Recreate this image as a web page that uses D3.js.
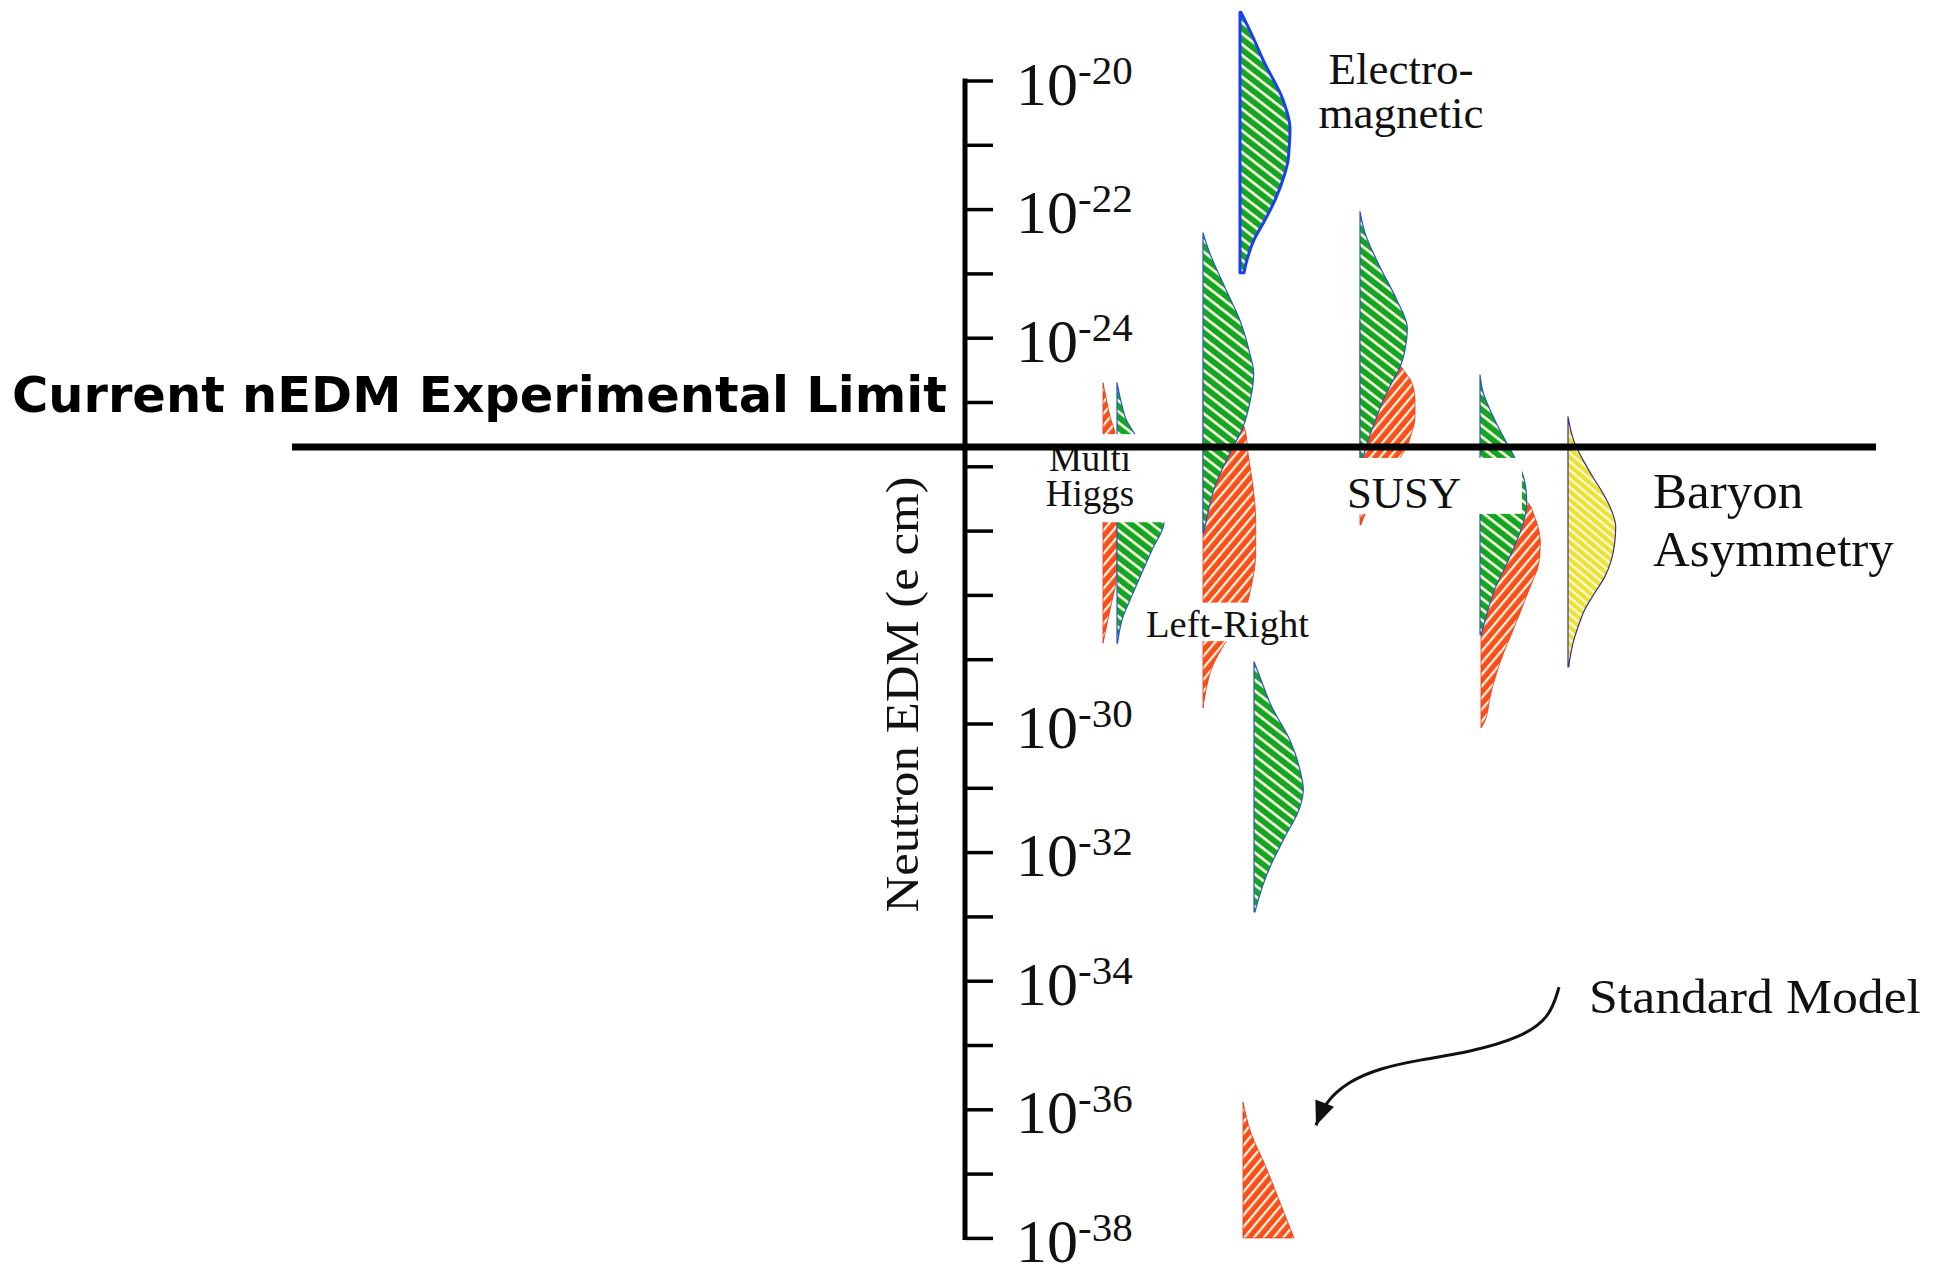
<!DOCTYPE html>
<html>
<head>
<meta charset="utf-8">
<script src="https://cdn.jsdelivr.net/npm/d3@7/dist/d3.min.js"></script>
<style>
  body { margin: 0; background: #fff; }
</style>
</head>
<body>
<div id="plot"></div>
<script>
// log10 of the neutron EDM (e cm)
var tickExps  = d3.range(-20, -39, -1);
var labelExps = [-20, -22, -24, -30, -32, -34, -36, -38];
var limitExp  = -25.7;

// predicted ranges, each point = [log10 EDM, band width]
var emGreen      = [[-18.94,0.1],[-19.26,1.1],[-19.71,2.4],[-20.30,4.3],[-20.74,5.0],[-21.08,4.9],[-21.25,4.8],[-21.44,4.5],[-21.86,3.5],[-22.17,2.5],[-22.48,1.4],[-22.79,0.7],[-22.99,0.4]];
var lrGreen      = [[-22.37,0],[-22.68,0.67],[-23.21,2.17],[-23.72,3.67],[-24.24,4.67],[-24.55,5.07],[-25.02,4.67],[-25.39,4.0],[-25.80,2.67],[-26.32,1.17],[-26.84,0.33],[-27.04,0.07]];
var lrOrange     = [[-24.66,0],[-25.05,2.5],[-25.43,4.2],[-25.80,4.5],[-26.32,5.0],[-26.84,5.27],[-27.35,5.27],[-27.88,4.8],[-28.23,4.2],[-28.55,3.0],[-28.75,2.2],[-29.09,1.0],[-29.48,0.3],[-29.76,0]];
var lrGreenLow   = [[-29.04,0],[-29.21,0.43],[-29.74,1.77],[-30.26,3.6],[-30.77,4.67],[-31.03,4.93],[-31.30,4.6],[-31.81,2.93],[-32.33,1.33],[-32.74,0.43],[-32.93,0.1]];
var mhOrange     = [[-24.70,0],[-24.97,0.35],[-25.23,0.7],[-25.50,1.2],[-26.21,1.35],[-26.87,1.4],[-27.46,1.4],[-27.72,1.35],[-28.23,0.7],[-28.75,0]];
var mhGreen      = [[-24.70,0],[-25.01,0.43],[-25.28,0.93],[-25.50,1.77],[-26.18,3.3],[-26.87,4.7],[-27.30,3.5],[-27.72,2.3],[-28.08,1.3],[-28.34,0.6],[-28.75,0.05]];
var susyGreen    = [[-22.04,0],[-22.37,0.5],[-22.90,2.0],[-23.41,3.67],[-23.85,4.73],[-24.19,4.5],[-24.46,4.0],[-24.70,3.17],[-24.97,2.33],[-25.23,1.67],[-25.48,1.07],[-25.75,0.5],[-25.98,0.1]];
var susyOrange   = [[-23.72,0],[-24.11,2.5],[-24.47,4.2],[-24.70,5.17],[-24.97,5.5],[-25.23,5.5],[-25.48,5.17],[-25.75,4.5],[-25.87,4.0],[-26.14,3.0],[-26.45,1.6],[-26.71,0.6],[-26.91,0.1]];
var col4Green    = [[-24.58,0],[-24.86,0.33],[-25.12,1.0],[-25.39,1.83],[-25.64,2.67],[-25.87,3.5],[-26.09,4.2],[-26.37,4.6],[-26.60,4.67],[-26.84,4.4],[-27.07,3.9],[-27.46,2.83],[-27.97,1.33],[-28.50,0.33],[-28.62,0.1]];
var col4Orange   = [[-26.06,0],[-26.37,2.8],[-26.57,4.7],[-26.76,5.3],[-26.94,5.7],[-27.19,5.93],[-27.46,5.83],[-27.97,4.67],[-28.50,3.33],[-29.01,2.0],[-29.52,1.0],[-29.98,0.33],[-30.07,0]];
var baryonYellow = [[-25.23,0],[-25.64,0.67],[-25.90,1.5],[-26.17,2.5],[-26.42,3.5],[-26.68,4.33],[-26.94,4.77],[-27.19,4.67],[-27.46,4.33],[-27.72,3.67],[-27.97,2.67],[-28.23,1.67],[-28.50,1.0],[-28.75,0.5],[-29.01,0.17],[-29.12,0.07]];
var smOrange     = [[-35.89,0],[-36.37,0.8],[-36.90,2.3],[-37.41,3.6],[-38.0,5.1]];

// which column each band sits in, drawn in this order (green over orange)
var bands = [
  {data: mhOrange,     col: 13.8, kind: "orange"},
  {data: lrOrange,     col: 23.8, kind: "orange"},
  {data: susyOrange,   col: 39.5, kind: "orange"},
  {data: col4Orange,   col: 51.6, kind: "orange"},
  {data: smOrange,     col: 27.8, kind: "orange"},
  {data: mhGreen,      col: 15.2, kind: "green"},
  {data: lrGreen,      col: 23.8, kind: "green"},
  {data: lrGreenLow,   col: 28.9, kind: "green"},
  {data: susyGreen,    col: 39.5, kind: "green"},
  {data: col4Green,    col: 51.5, kind: "green"},
  {data: emGreen,      col: 27.5, kind: "em"},
  {data: baryonYellow, col: 60.3, kind: "yellow"}
];

var W = 1942, H = 1275;
var svg = d3.select("#plot").append("svg")
    .attr("width", W)
    .attr("height", H);

var x = d3.scaleLinear().domain([0, 100]).range([965, 1965]);
var y = d3.scaleLinear().domain([-20, -38]).range([80.5, 1237.9]);

var serif = "'Liberation Serif', 'Times New Roman', serif";

// hatch patterns
var defs = svg.append("defs");
function hatch(id, color, period, white, angle) {
    var p = defs.append("pattern")
        .attr("id", id)
        .attr("patternUnits", "userSpaceOnUse")
        .attr("width", period)
        .attr("height", period)
        .attr("patternTransform", "rotate(" + angle + ")");
    p.append("rect").attr("width", period).attr("height", period).attr("fill", color);
    p.append("rect").attr("width", period).attr("height", white).attr("fill", "#fffbe2");
}
hatch("hGreen", "#14a523", 8.5, 2.6, 38);
hatch("hOrange", "#fa4f1c", 7.5, 2.2, -50);
hatch("hYellow", "#ece232", 6.5, 2.2, 40);

var styles = {
    orange: {fill: "url(#hOrange)", stroke: "#d8381a", width: 0.8},
    green:  {fill: "url(#hGreen)",  stroke: "#2a55c8", width: 1.2},
    em:     {fill: "url(#hGreen)",  stroke: "#1c3cf5", width: 3},
    yellow: {fill: "url(#hYellow)", stroke: "#3c2c8c", width: 1.2}
};

bands.forEach(function(b) {
    var area = d3.area()
        .curve(d3.curveMonotoneY)
        .y(function(d) { return y(d[0]); })
        .x0(x(b.col))
        .x1(function(d) { return x(b.col + d[1]); });
    var s = styles[b.kind];
    svg.append("path")
        .datum(b.data)
        .attr("d", area)
        .attr("fill", s.fill)
        .attr("stroke", s.stroke)
        .attr("stroke-width", s.width)
        .attr("stroke-linejoin", "round");
});

// white boxes behind the model names: [col from, col to, exp top, exp bottom]
var labelBoxes = [
    [7.0, 20.2, -25.50, -26.87],
    [37.5, 55.7, -25.87, -26.74],
    [17.7, 35.0, -28.12, -28.72]
];
svg.selectAll(".lbox")
    .data(labelBoxes)
    .enter().append("rect")
    .attr("x", function(d) { return x(d[0]); })
    .attr("y", function(d) { return y(d[2]); })
    .attr("width", function(d) { return x(d[1]) - x(d[0]); })
    .attr("height", function(d) { return y(d[3]) - y(d[2]); })
    .attr("fill", "#fff");

// model names; second line sits at e2
var labels = [
    {lines: ["Electro-", "magnetic"], u: 43.6,  e: -20.06, e2: -20.74, size: 45, anchor: "middle"},
    {lines: ["Multi", "Higgs"],       u: 12.5,  e: -26.07, e2: -26.62, size: 37, anchor: "middle"},
    {lines: ["Left-Right"],           u: 26.25, e: -28.66, size: 38, anchor: "middle", len: 163},
    {lines: ["SUSY"],                 u: 43.9,  e: -26.65, size: 44, anchor: "middle", len: 114},
    {lines: ["Baryon", "Asymmetry"],  u: 68.8,  e: -26.65, e2: -27.55, size: 51, anchor: "start"},
    {lines: ["Standard Model"],       u: 62.4,  e: -34.50, size: 48, anchor: "start", len: 332}
];
labels.forEach(function(d) {
    var t = svg.append("text")
        .attr("text-anchor", d.anchor)
        .style("font-family", serif)
        .style("font-size", d.size + "px")
        .attr("fill", "#111");
    if (d.lines.length == 1) {
        t.attr("x", x(d.u)).attr("y", y(d.e))
         .attr("textLength", d.len)
         .attr("lengthAdjust", "spacingAndGlyphs")
         .text(d.lines[0]);
    } else {
        t.append("tspan").attr("x", x(d.u)).attr("y", y(d.e)).text(d.lines[0]);
        t.append("tspan").attr("x", x(d.u)).attr("y", y(d.e2)).text(d.lines[1]);
    }
});

// arrow to the Standard Model band
var arrowPts = [[59.4,-34.10],[58.5,-34.58],[55.5,-34.89],[50.5,-35.11],[45.5,-35.23],[41.5,-35.36],[38.3,-35.57],[36.0,-35.89],[35.1,-36.25]];
defs.append("marker")
    .attr("id", "head")
    .attr("markerUnits", "userSpaceOnUse")
    .attr("viewBox", "-26 -11 28 22")
    .attr("markerWidth", 28)
    .attr("markerHeight", 22)
    .attr("refX", 0)
    .attr("refY", 0)
    .attr("orient", "auto")
    .append("path")
    .attr("d", "M0,0L-24,-10L-24,10Z")
    .attr("fill", "#111");
svg.append("path")
    .datum(arrowPts)
    .attr("d", d3.line()
        .curve(d3.curveBasis)
        .x(function(d) { return x(d[0]); })
        .y(function(d) { return y(d[1]); }))
    .attr("fill", "none")
    .attr("stroke", "#111")
    .attr("stroke-width", 3)
    .attr("marker-end", "url(#head)");

// title and limit line
svg.append("text")
    .attr("x", x(-95.3))
    .attr("y", y(-25.155))
    .attr("textLength", 935)
    .attr("lengthAdjust", "spacingAndGlyphs")
    .style("font-family", "'DejaVu Sans', sans-serif")
    .style("font-weight", "bold")
    .style("font-size", "49px")
    .attr("fill", "#000")
    .text("Current nEDM Experimental Limit");

svg.append("line")
    .attr("x1", x(-67.3))
    .attr("x2", x(91.1))
    .attr("y1", y(limitExp))
    .attr("y2", y(limitExp))
    .attr("stroke", "#000")
    .attr("stroke-width", 7);

// y axis
var axis = svg.append("g")
    .attr("transform", "translate(" + x(0) + ",0)")
    .call(d3.axisRight(y)
        .tickValues(tickExps)
        .tickSize(28)
        .tickSizeOuter(0)
        .tickFormat(""));
axis.select(".domain")
    .attr("stroke", "#000")
    .attr("stroke-width", 5)
    .attr("d", "M0," + (y(-20) - 2) + "V" + (y(-38) + 2));
axis.selectAll(".tick line")
    .attr("stroke", "#000")
    .attr("stroke-width", 3.5);

var tl = svg.selectAll(".tlabel")
    .data(labelExps)
    .enter().append("text")
    .attr("x", x(5.1))
    .attr("y", function(d) { return y(d) + 24; })
    .style("font-family", serif)
    .attr("fill", "#111");
tl.append("tspan")
    .style("font-size", "62px")
    .text("10");
tl.append("tspan")
    .attr("dy", -21)
    .style("font-size", "41px")
    .text(function(d) { return "-" + Math.abs(d); });

svg.append("text")
    .attr("transform", "translate(" + x(-4.7) + "," + y(-29.55) + ") rotate(-90)")
    .attr("text-anchor", "middle")
    .attr("textLength", 436)
    .attr("lengthAdjust", "spacingAndGlyphs")
    .style("font-family", serif)
    .style("font-size", "46px")
    .attr("fill", "#111")
    .text("Neutron EDM (e cm)");
</script>
</body>
</html>
